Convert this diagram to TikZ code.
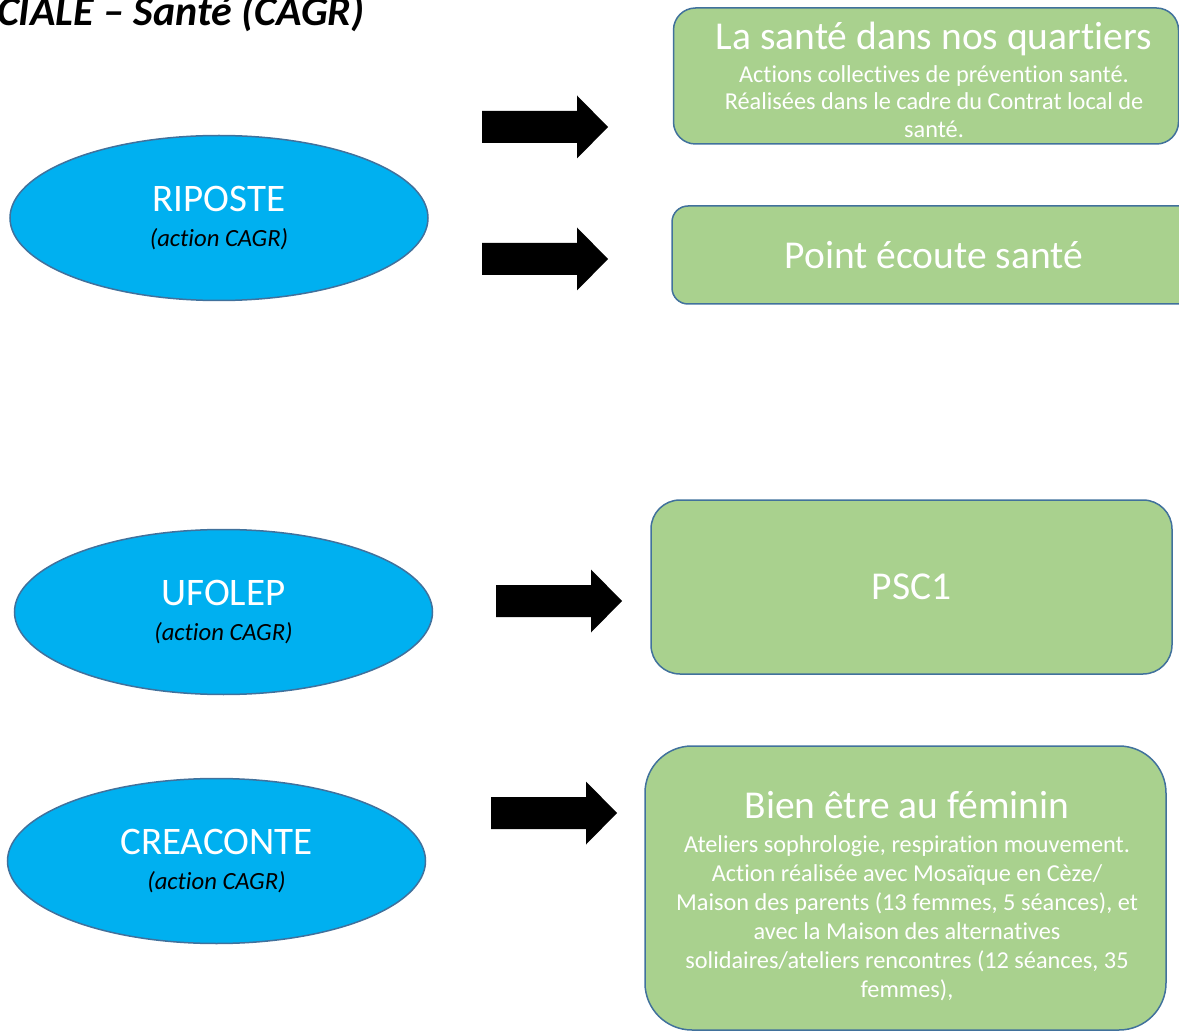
\documentclass[tikz,border=0pt]{standalone}
\usepackage{fontspec}
\setmainfont{Carlito}[Ligatures=NoCommon]
\usetikzlibrary{shapes.geometric}
\definecolor{bleu}{HTML}{00B0F0}
\definecolor{vien}{HTML}{41719C}
\definecolor{xanh}{HTML}{A9D18E}
\begin{document}
\begin{tikzpicture}[x=1pt,y=-1pt,font=\fontsize{24.7}{35}\selectfont,
    elip/.style={ellipse,draw=vien,fill=bleu,line width=1.5pt,minimum width=418,minimum height=165,inner sep=0pt,align=center,text=white},
    hop/.style={rectangle,draw=vien,fill=xanh,line width=1.5pt,inner sep=0pt,align=center,text=white},
    chu/.style={align=center,text=white,inner sep=0pt}]
            \def\to{\fontsize{39.5}{40}\selectfont}
            \def\ten{\fontsize{39}{35}\selectfont}
            \def\fleche(#1,#2){(#1,#2-16)--(#1+95,#2-16)--(#1+95,#2-31.5)--(#1+126,#2)--(#1+95,#2+31.5)--(#1+95,#2+16)--(#1,#2+16)--cycle}
            \useasboundingbox (0,0) rectangle (1179,1032);
            \clip (0,0) rectangle (1179,1032);
            \node[anchor=base east,font=\fontsize{42}{48}\selectfont\bfseries\itshape] (tieude) at (368,26) {CIALE -- Santé (CAGR)};
            %===========================================
            \node[elip] (riposte) at (219,218) {{\ten RIPOSTE}\\{\itshape\color{black}(action CAGR)}};
            \node[elip] (ufolep) at (223.5,612) {{\ten UFOLEP}\\{\itshape\color{black}(action CAGR)}};
            \node[elip] (creaconte) at (216.5,861) {{\ten CREACONTE}\\{\itshape\color{black}(action CAGR)}};
            %===========================================
            \node[hop,rounded corners=22,minimum width=505,minimum height=136] (quartiers) at (926,76) {};
            \node[chu,font=\fontsize{24.3}{27.5}\selectfont] (quartierschu) at (934,80)
                {{\to La santé dans nos quartiers}\\[5pt]Actions collectives de prévention santé.\\Réalisées dans le cadre du Contrat local de\\santé.};
            \node[hop,rounded corners=16,minimum width=524,minimum height=98] (ecoute) at (934,255) {\to Point écoute santé};
            \node[hop,rounded corners=29,minimum width=521,minimum height=174] (psc) at (911.5,587) {\to PSC1};
            \node[hop,rounded corners=47,minimum width=521,minimum height=284] (feminin) at (905.5,888) {};
            \node[chu,font=\fontsize{24.3}{29}\selectfont] (femininchu) at (907,896)
                {{\to Bien être au féminin}\\[5pt]Ateliers sophrologie, respiration mouvement.\\Action réalisée avec Mosaïque en Cèze/\\Maison des parents (13 femmes, 5 séances), et\\avec la Maison des alternatives\\solidaires/ateliers rencontres (12 séances, 35\\femmes),};
            %===========================================
            \foreach \a/\b in {482/127,482/259,496/601,491/813}\fill \fleche(\a,\b);
    \end{tikzpicture}
\end{document}
